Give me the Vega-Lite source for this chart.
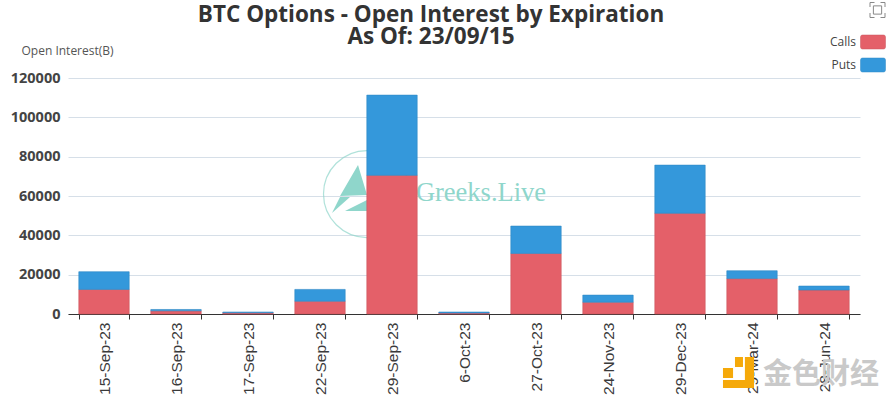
{
"$schema":"https://vega.github.io/schema/vega-lite/v6.json",
"width":792,"height":236,
"autosize":{"type":"none"},
"padding":{"left":68,"top":78,"right":32,"bottom":86},
"background":"white",
"title":{"text":["BTC Options - Open Interest by Expiration","As Of: 23/09/15"],"font":"Open Sans","fontSize":22.5,"fontWeight":"bold","color":"#333333","anchor":"middle","frame":"group","dx":-33,"offset":-48,"lineHeight":22},
"config":{"view":{"stroke":null},
"axisX":{"labelAngle":270,"labelFont":"Liberation Sans","labelFontSize":15.5,"labelFontWeight":"normal","labelColor":"#3a3a3a","labelPadding":3,"tickBand":"extent","tickColor":"#333333","tickSize":5,"domainColor":"#333333","grid":false,"labelOverlap":false,"title":null},
"axisY":{"domain":false,"ticks":false,"labelOverlap":false,"tickCount":7,"labelFont":"Open Sans","labelFontSize":14.5,"labelFontWeight":"bold","labelColor":"#444444","labelPadding":8,"grid":true,"gridColor":"#d6dfe8","format":"d","titleAngle":0,"titleAlign":"left","titleBaseline":"middle","titleX":-47,"titleY":-28,"titleFont":"Open Sans","titleFontSize":12,"titleFontWeight":"normal","titleColor":"#555555"}},
"layer":[
{"data":{"values":[{}]},"mark":{"type":"text","font":"Liberation Serif","fontSize":26.5,"color":"#8fd6cb","dx":17},
 "encoding":{"x":{"datum":"6-Oct-23","type":"nominal","title":null},"y":{"datum":61500,"type":"quantitative","title":"Open Interest(B)","axis":{"values":[0,20000,40000,60000,80000,100000,120000]}},"text":{"value":"Greeks.Live"}}},
{"data":{"values":[{}]},"mark":{"type":"point","shape":"circle","size":7569,"filled":false,"stroke":"#8fd6cb","strokeWidth":1.2,"xOffset":-25},
 "encoding":{"x":{"datum":"29-Sep-23","type":"nominal","title":null},"y":{"datum":61000,"type":"quantitative","title":"Open Interest(B)","axis":{"values":[0,20000,40000,60000,80000,100000,120000]}}}},
{"data":{"values":[{}]},"mark":{"type":"point","shape":"M0.32 -1 L0.68 0.2 L-0.4 0.24 Z M-0.72 0.92 L0 0.28 L-0.4 0.28 Z M-0.2 0.84 L0.68 0.4 L0.68 0.84 Z","size":2500,"filled":true,"fill":"#8fd6cb","opacity":1,"xOffset":-42},
 "encoding":{"x":{"datum":"29-Sep-23","type":"nominal","title":null},"y":{"datum":63050,"type":"quantitative","title":"Open Interest(B)","axis":{"values":[0,20000,40000,60000,80000,100000,120000]}}}},
{"data":{"values":[
{"date":"15-Sep-23","type":"Calls","oi":12500},{"date":"15-Sep-23","type":"Puts","oi":9000},
{"date":"16-Sep-23","type":"Calls","oi":1600},{"date":"16-Sep-23","type":"Puts","oi":700},
{"date":"17-Sep-23","type":"Calls","oi":600},{"date":"17-Sep-23","type":"Puts","oi":400},
{"date":"22-Sep-23","type":"Calls","oi":6500},{"date":"22-Sep-23","type":"Puts","oi":6000},
{"date":"29-Sep-23","type":"Calls","oi":70500},{"date":"29-Sep-23","type":"Puts","oi":40800},
{"date":"6-Oct-23","type":"Calls","oi":500},{"date":"6-Oct-23","type":"Puts","oi":500},
{"date":"27-Oct-23","type":"Calls","oi":30800},{"date":"27-Oct-23","type":"Puts","oi":13900},
{"date":"24-Nov-23","type":"Calls","oi":6000},{"date":"24-Nov-23","type":"Puts","oi":3600},
{"date":"29-Dec-23","type":"Calls","oi":51200},{"date":"29-Dec-23","type":"Puts","oi":24500},
{"date":"29-Mar-24","type":"Calls","oi":18000},{"date":"29-Mar-24","type":"Puts","oi":4000},
{"date":"28-Jun-24","type":"Calls","oi":12200},{"date":"28-Jun-24","type":"Puts","oi":2000}
]},
"mark":{"type":"bar","strokeWidth":1,"strokeOpacity":0.6},
"encoding":{
"x":{"field":"date","type":"nominal","sort":null,"title":null,
 "scale":{"domain":["15-Sep-23","16-Sep-23","17-Sep-23","22-Sep-23","29-Sep-23","6-Oct-23","27-Oct-23","24-Nov-23","29-Dec-23","29-Mar-24","28-Jun-24"],"paddingInner":0.3,"paddingOuter":0.15}},
"y":{"field":"oi","type":"quantitative","stack":"zero",
 "scale":{"domain":[0,120000]},
 "title":"Open Interest(B)",
 "axis":{"values":[0,20000,40000,60000,80000,100000,120000]}},
"order":{"field":"type","sort":"ascending"},
"color":{"field":"type","type":"nominal","title":null,
 "scale":{"domain":["Calls","Puts"],"range":["#e46069","#3498db"]},
 "legend":{"orient":"none","legendX":792,"legendY":-49,"padding":0,"symbolType":"M-1 -0.4 Q-1 -0.56 -0.84 -0.56 L0.84 -0.56 Q1 -0.56 1 -0.4 L1 0.4 Q1 0.56 0.84 0.56 L-0.84 0.56 Q-1 0.56 -1 0.4 Z","symbolSize":625,"symbolStrokeWidth":0.5,"labelAlign":"right","labelOffset":-30,"labelFont":"Open Sans","labelFontSize":12,"labelColor":"#444444","rowPadding":2,"symbolOpacity":1}},
"stroke":{"field":"type","type":"nominal","legend":null,"scale":{"domain":["Calls","Puts"],"range":["#c9565e","#2e88c4"]}}
}},
{"data":{"values":[{}]},"mark":{"type":"text","font":"Noto Sans CJK SC","fontSize":29,"fontWeight":"bold","color":"#c9c9c9","dx":-3},
 "encoding":{"x":{"datum":"28-Jun-24","type":"nominal","title":null},"y":{"datum":-31000,"type":"quantitative","title":"Open Interest(B)","axis":{"values":[0,20000,40000,60000,80000,100000,120000]}},"text":{"value":"金色财经"}}},
{"data":{"values":[{}]},"mark":{"type":"point","shape":"M0.4 -0.97 L0.97 -0.97 L0.97 0.97 L-0.97 0.97 L-0.97 0.47 L0.4 0.47 Z M-0.97 -0.28 L-0.34 -0.28 L-0.34 0.34 L-0.97 0.34 Z M-0.22 -0.97 L0.28 -0.97 L0.28 -0.34 L-0.22 -0.34 Z","size":1024,"filled":true,"fill":"#f5a90a","opacity":1,"xOffset":-85.5},
 "encoding":{"x":{"datum":"28-Jun-24","type":"nominal","title":null},"y":{"datum":-29750,"type":"quantitative","title":"Open Interest(B)","axis":{"values":[0,20000,40000,60000,80000,100000,120000]}}}},
{"data":{"values":[{}]},"mark":{"type":"point","shape":"M-1 -0.4 L-1 -1 L-0.4 -1 M0.4 -1 L1 -1 L1 -0.4 M1 0.4 L1 1 L0.4 1 M-0.4 1 L-1 1 L-1 0.4 M-0.55 -0.55 L0.55 -0.55 L0.55 0.55 L-0.55 0.55 Z","size":225,"filled":false,"stroke":"#888888","strokeWidth":1,"opacity":1,"xOffset":53.5},
 "encoding":{"x":{"datum":"28-Jun-24","type":"nominal","title":null},"y":{"datum":154584,"type":"quantitative","title":"Open Interest(B)","axis":{"values":[0,20000,40000,60000,80000,100000,120000]}}}}
]
}
